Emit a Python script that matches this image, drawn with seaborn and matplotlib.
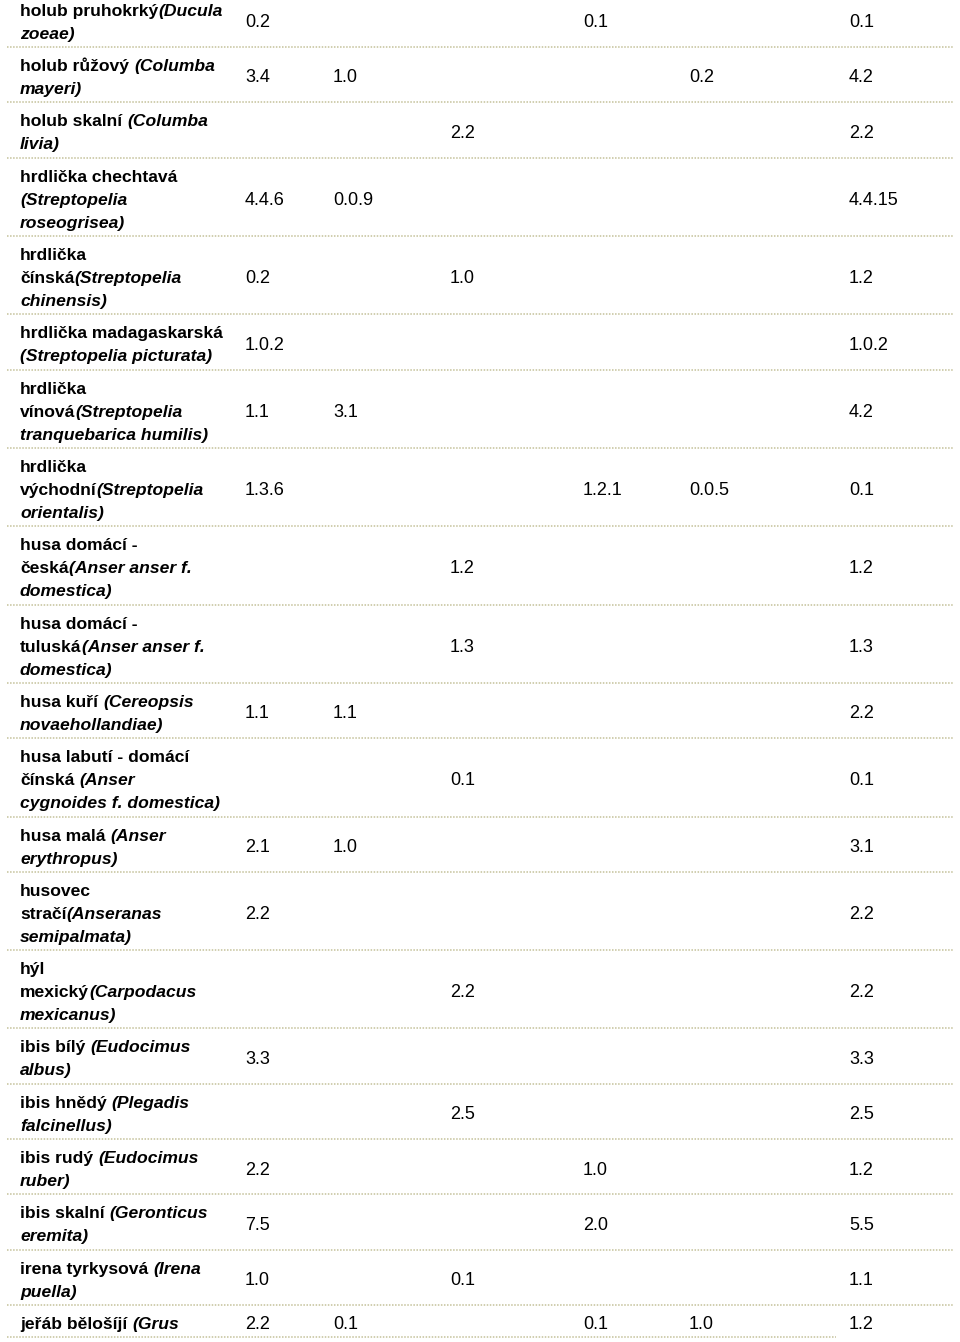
import matplotlib
matplotlib.use("Agg")
import matplotlib.pyplot as plt
import seaborn as sns

# ---------------- data ----------------
labels = [
    "holub pruhokrký(Ducula\nzoeae)",
    "holub růžový (Columba\nmayeri)",
    "holub skalní (Columba\nlivia)",
    "hrdlička chechtavá\n(Streptopelia\nroseogrisea)",
    "hrdlička\nčínská(Streptopelia\nchinensis)",
    "hrdlička madagaskarská\n(Streptopelia picturata)",
    "hrdlička\nvínová(Streptopelia\ntranquebarica humilis)",
    "hrdlička\nvýchodní(Streptopelia\norientalis)",
    "husa domácí -\nčeská(Anser anser f.\ndomestica)",
    "husa domácí -\ntuluská(Anser anser f.\ndomestica)",
    "husa kuří (Cereopsis\nnovaehollandiae)",
    "husa labutí - domácí\nčínská (Anser\ncygnoides f. domestica)",
    "husa malá (Anser\nerythropus)",
    "husovec\nstračí(Anseranas\nsemipalmata)",
    "hýl\nmexický(Carpodacus\nmexicanus)",
    "ibis bílý (Eudocimus\nalbus)",
    "ibis hnědý (Plegadis\nfalcinellus)",
    "ibis rudý (Eudocimus\nruber)",
    "ibis skalní (Geronticus\neremita)",
    "irena tyrkysová (Irena\npuella)",
    "jeřáb bělošíjí (Grus",
]

col1 = ["0.2", "3.4", "", "4.4.6", "0.2", "1.0.2", "1.1", "1.3.6", "", "", "1.1",
        "", "2.1", "2.2", "", "3.3", "", "2.2", "7.5", "1.0", "2.2"]
col2 = ["", "1.0", "", "0.0.9", "", "", "3.1", "", "", "", "1.1",
        "", "1.0", "", "", "", "", "", "", "", "0.1"]
col3 = ["", "", "2.2", "", "1.0", "", "", "", "1.2", "1.3", "",
        "0.1", "", "", "2.2", "", "2.5", "", "", "0.1", ""]
col4 = ["0.1", "", "", "", "", "", "", "1.2.1", "", "", "",
        "", "", "", "", "", "", "1.0", "2.0", "", "0.1"]
col5 = ["", "0.2", "", "", "", "", "", "0.0.5", "", "", "",
        "", "", "", "", "", "", "", "", "", "1.0"]
col6 = ["0.1", "4.2", "2.2", "4.4.15", "1.2", "1.0.2", "4.2", "0.1", "1.2", "1.3", "2.2",
        "0.1", "3.1", "2.2", "2.2", "3.3", "2.5", "1.2", "5.5", "1.1", "1.2"]
columns = [col1, col2, col3, col4, col5, col6]

# ---------------- style / layout ----------------
sns.set_theme(style="white")
plt.rcParams['font.family'] = ['Liberation Sans', 'DejaVu Sans']

W, H = 960, 1342
fig = plt.figure(figsize=(W / 100, H / 100), dpi=100)
ax = fig.add_axes([0, 0, 1, 1])
ax.set_xlim(0, W)
ax.set_ylim(H, 0)
ax.axis('off')
sns.despine(ax=ax, left=True, bottom=True)

NAME_X = 20
COL_X = [245, 333, 450, 583, 689, 849]
LINE = 23.0
PAD = 9.32
FIRST_BASE = 24.0
NAME_FS = 12.6
VAL_FS = 13.0
SEP_COLOR = "#c4c19a"

fig.canvas.draw()
renderer = fig.canvas.get_renderer()


def text_width(s, **kw):
    t = ax.text(0, 0, s, **kw)
    w = t.get_window_extent(renderer).width
    t.remove()
    return w


bold_kw = dict(fontsize=NAME_FS, fontweight='bold', color='black')
ital_kw = dict(fontsize=NAME_FS, fontweight='bold', fontstyle='italic', color='black')
space_bold = text_width("a a", **bold_kw) - text_width("aa", **bold_kw)


def draw_label(label, top):
    italic = False
    for k, line in enumerate(label.split("\n")):
        base = top + FIRST_BASE + k * LINE
        if italic:
            segs = [(line, ital_kw)]
        elif "(" in line:
            i = line.index("(")
            segs = [(line[:i], bold_kw), (line[i:], ital_kw)]
            italic = True
        else:
            segs = [(line, bold_kw)]
        x = NAME_X
        for s, kw in segs:
            core = s.rstrip(" ")
            trailing = len(s) - len(core)
            if core:
                ax.text(x, base, core, ha='left', va='baseline', **kw)
                x += text_width(core, **kw)
            x += trailing * space_bold


seps = []
top = 47 - (PAD + 2 * LINE)
for r, label in enumerate(labels):
    n = label.count("\n") + 1
    h = PAD + n * LINE
    draw_label(label, top)
    vbase = top + FIRST_BASE + (n - 1) * LINE / 2.0
    for j, col in enumerate(columns):
        v = col[r]
        if v:
            ax.text(COL_X[j], vbase, v, ha='left', va='baseline',
                    fontsize=VAL_FS, color='black')
    top += h
    seps.append(top)

ax.hlines(seps[:-1], 7, 953, colors=SEP_COLOR, linestyles=(0, (1, 1)), linewidth=1.1)
ax.hlines(seps[-1:], 7, 836, colors=SEP_COLOR, linestyles=(0, (1, 1)), linewidth=1.1)

fig.savefig("out.png", dpi=100, facecolor='white')
